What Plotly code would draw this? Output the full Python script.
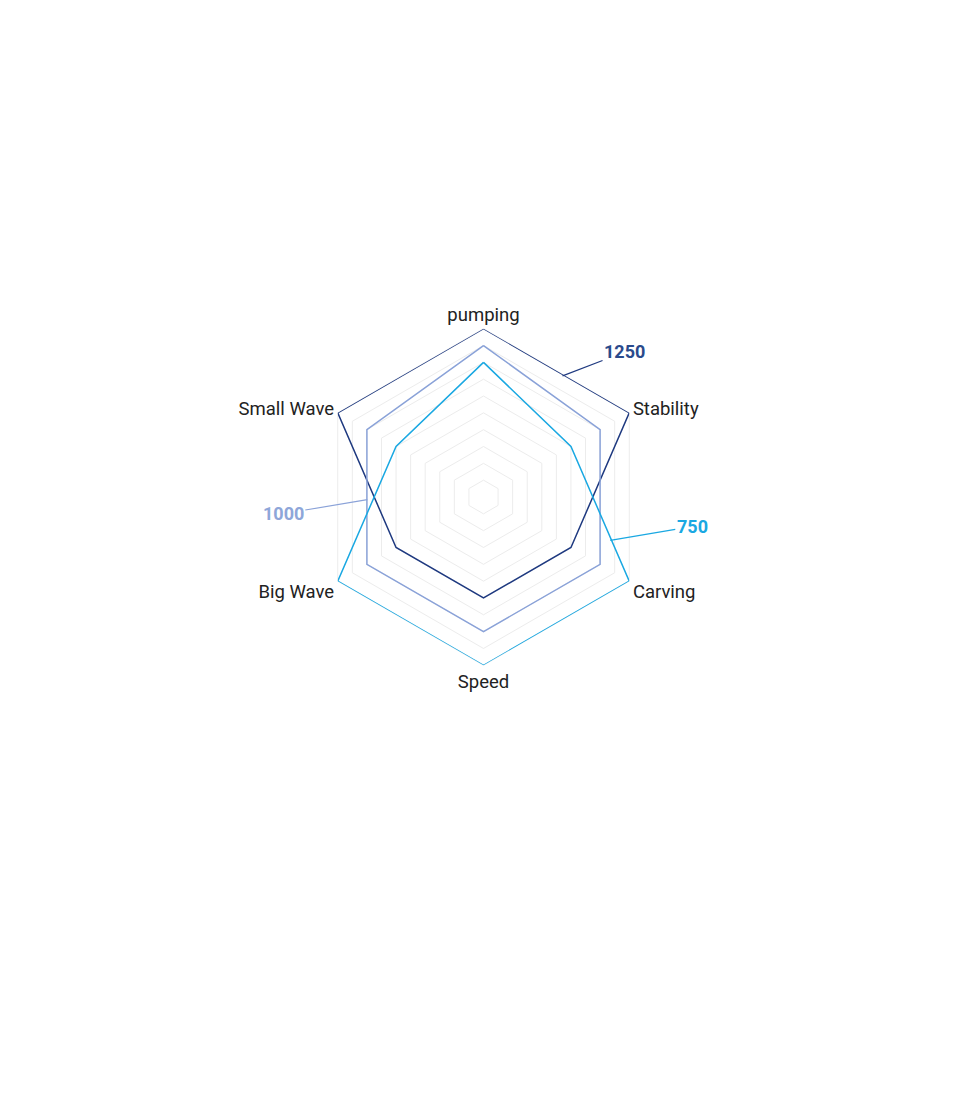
import plotly.graph_objects as go
import math

categories = ["pumping", "Stability", "Carving", "Speed", "Big Wave", "Small Wave"]
series_names = ["1250", "1000", "750"]
values_1250 = [10, 10, 6, 6, 6, 10]
values_1000 = [9, 8, 8, 8, 8, 8]
values_750 = [8, 6, 10, 10, 10, 6]
colors = ["#1f3a80", "#8aa2d8", "#1aa8e2"]
label_colors = ["#2a4a8c", "#8ea6d9", "#1aa8e2"]

all_values = [values_1250, values_1000, values_750]
r_max = 10

W, H = 960, 1111
# page is offset by the browser's 8px body margin
cx, cy, R = 475, 489, 167
dcx, dcy, dR = 475.5, 489, 168.3
dom_x = [(dcx - dR) / W, (dcx + dR) / W]
dom_y = [(H - dcy - dR) / H, (H - dcy + dR) / H]

fig = go.Figure()
for name, vals, col in zip(series_names, all_values, colors):
    fig.add_trace(go.Scatterpolar(
        r=vals + [vals[0]], theta=categories + [categories[0]],
        mode="lines", line=dict(color=col, width=1.5), name=name,
        showlegend=False, hoverinfo="skip"))

def vertex(vals, i):
    n = len(vals)
    ang = math.radians(90 - 360 * i / n)
    rr = vals[i] / r_max * R
    return cx + rr * math.cos(ang), cy - rr * math.sin(ang)

# (series index, edge start vertex, edge end vertex, fraction along edge, text offset)
label_specs = [
    (0, 0, 1, 0.55, 62, -24),
    (1, 4, 5, 0.48, -84, 14),
    (2, 1, 2, 0.70, 82, -14),
]
for si, va, vb, frac, ax, ay in label_specs:
    vals = all_values[si]
    x0, y0 = vertex(vals, va)
    x1, y1 = vertex(vals, vb)
    px = x0 + (x1 - x0) * frac
    py = y0 + (y1 - y0) * frac
    fig.add_annotation(
        x=px / W, y=(H - py) / H, xref="paper", yref="paper",
        text="<b>%s</b>" % series_names[si], showarrow=True, arrowhead=0,
        arrowwidth=1.2, arrowcolor=colors[si], ax=ax, ay=ay,
        font=dict(size=18, color=label_colors[si], family="Roboto"))

fig.update_layout(
    width=W, height=H, margin=dict(l=0, r=0, t=0, b=0),
    paper_bgcolor="white", plot_bgcolor="white",
    font=dict(family="Roboto", size=18.5, color="#222222"),
    polar=dict(
        domain=dict(x=dom_x, y=dom_y),
        bgcolor="white",
        gridshape="linear",
        radialaxis=dict(range=[0, r_max], dtick=1, showticklabels=False,
                        showline=False, ticks="", gridcolor="#ececec",
                        gridwidth=1, layer="below traces"),
        angularaxis=dict(direction="clockwise", rotation=90,
                         showgrid=False, linecolor="#ececec", ticks="",
                         layer="below traces",
                         tickfont=dict(size=18.5, color="#222222")),
    ),
)

fig.write_html("out.html")
